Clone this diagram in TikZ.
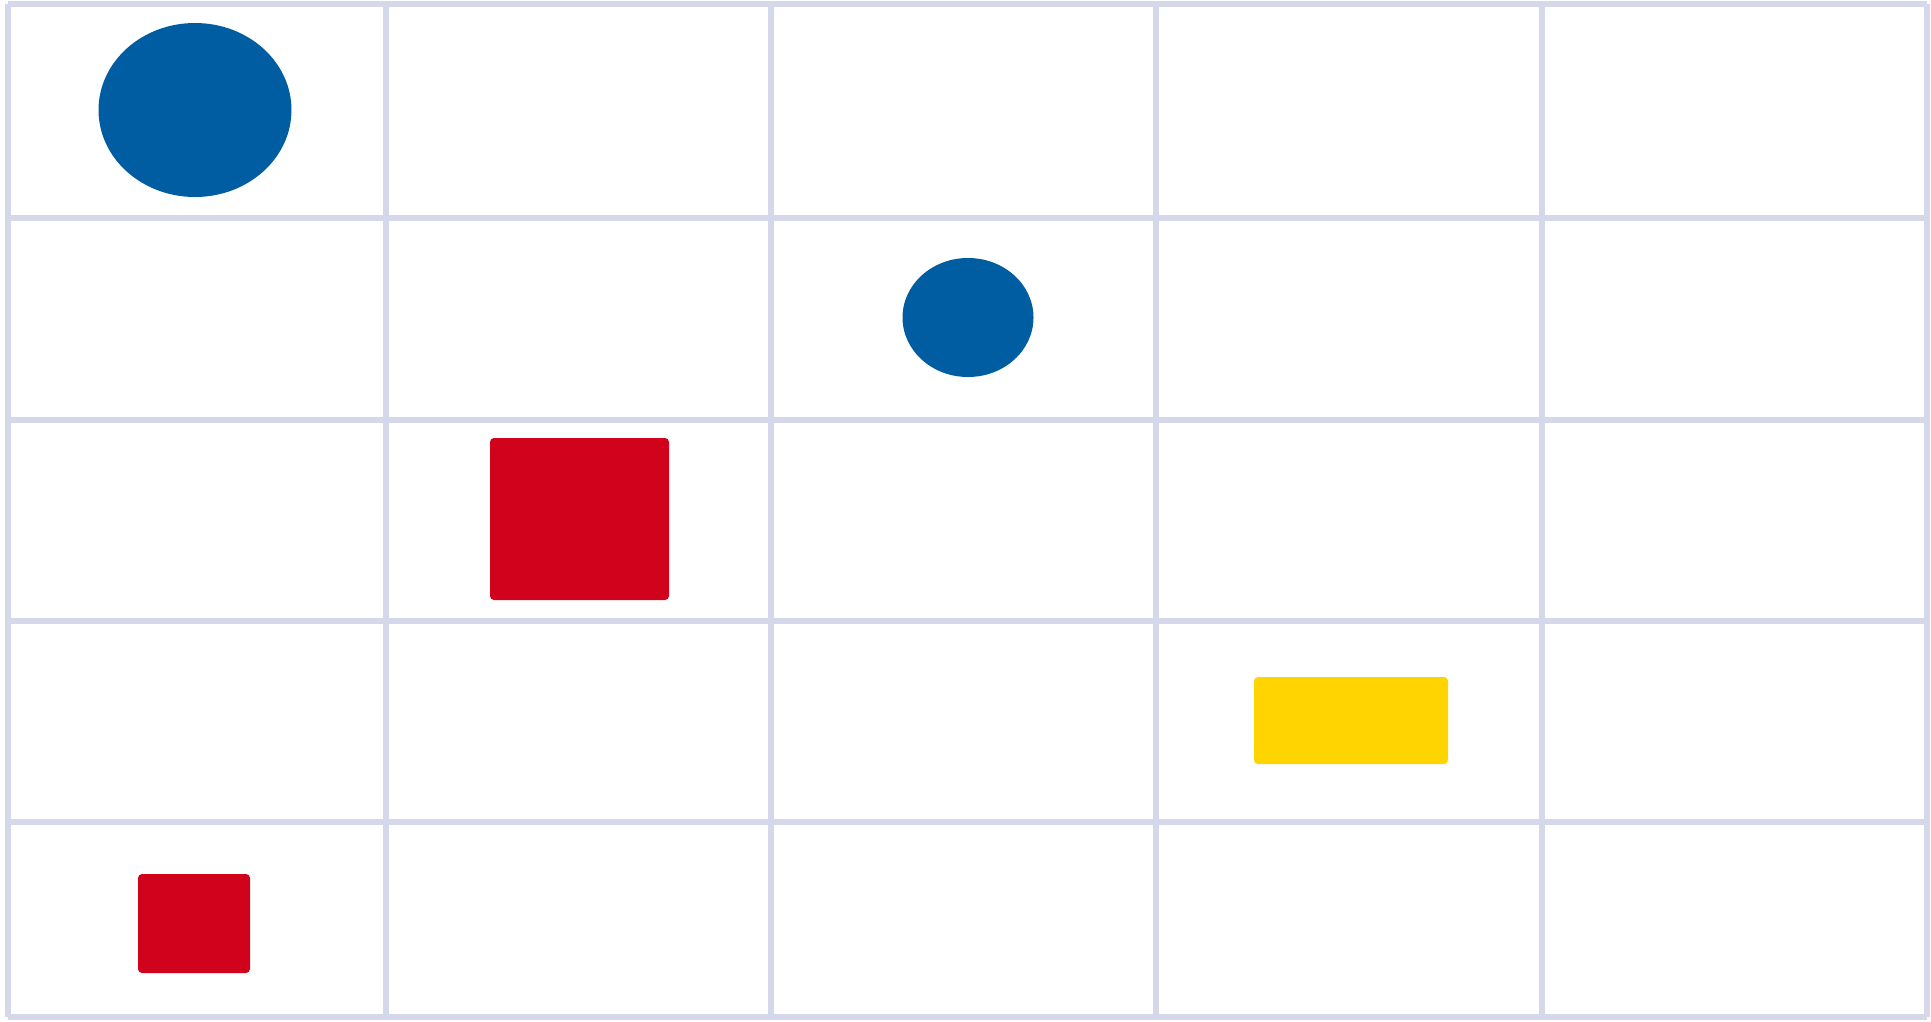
\documentclass[tikz,border=0pt]{standalone}
\usepackage{tikz}

\definecolor{gridline}{HTML}{D5D8EA}
\definecolor{blueshape}{HTML}{005DA2}
\definecolor{redshape}{HTML}{D0021C}
\definecolor{yellowshape}{HTML}{FFD400}

\begin{document}
\begin{tikzpicture}[x=0.01cm,y=-0.01cm]
			\useasboundingbox (0,0) rectangle (1931,1021);
			\draw[color=gridline, line width=0.06cm](8,4) -- (8,1017);
			\draw[color=gridline, line width=0.06cm](386,4) -- (386,1017);
			\draw[color=gridline, line width=0.06cm](771,4) -- (771,1017);
			\draw[color=gridline, line width=0.06cm](1156,4) -- (1156,1017);
			\draw[color=gridline, line width=0.06cm](1542,4) -- (1542,1017);
			\draw[color=gridline, line width=0.06cm](1927,4) -- (1927,1017);
			\draw[color=gridline, line width=0.06cm](8,4) -- (1927,4);
			\draw[color=gridline, line width=0.06cm](8,218) -- (1927,218);
			\draw[color=gridline, line width=0.06cm](8,420) -- (1927,420);
			\draw[color=gridline, line width=0.06cm](8,621) -- (1927,621);
			\draw[color=gridline, line width=0.06cm](8,822) -- (1927,822);
			\draw[color=gridline, line width=0.06cm](8,1017) -- (1927,1017);
			\fill[color=blueshape](195,110) ellipse(96.5 and 87);
			\fill[color=blueshape](968,317.5) ellipse(65.5 and 59.5);
			\fill[color=redshape, rounded corners=0.04cm](490,438) rectangle (669,600);
			\fill[color=yellowshape, rounded corners=0.04cm](1254,677) rectangle (1448,764);
			\fill[color=redshape, rounded corners=0.04cm](138,874) rectangle (250,973);
		\end{tikzpicture}
\end{document}
